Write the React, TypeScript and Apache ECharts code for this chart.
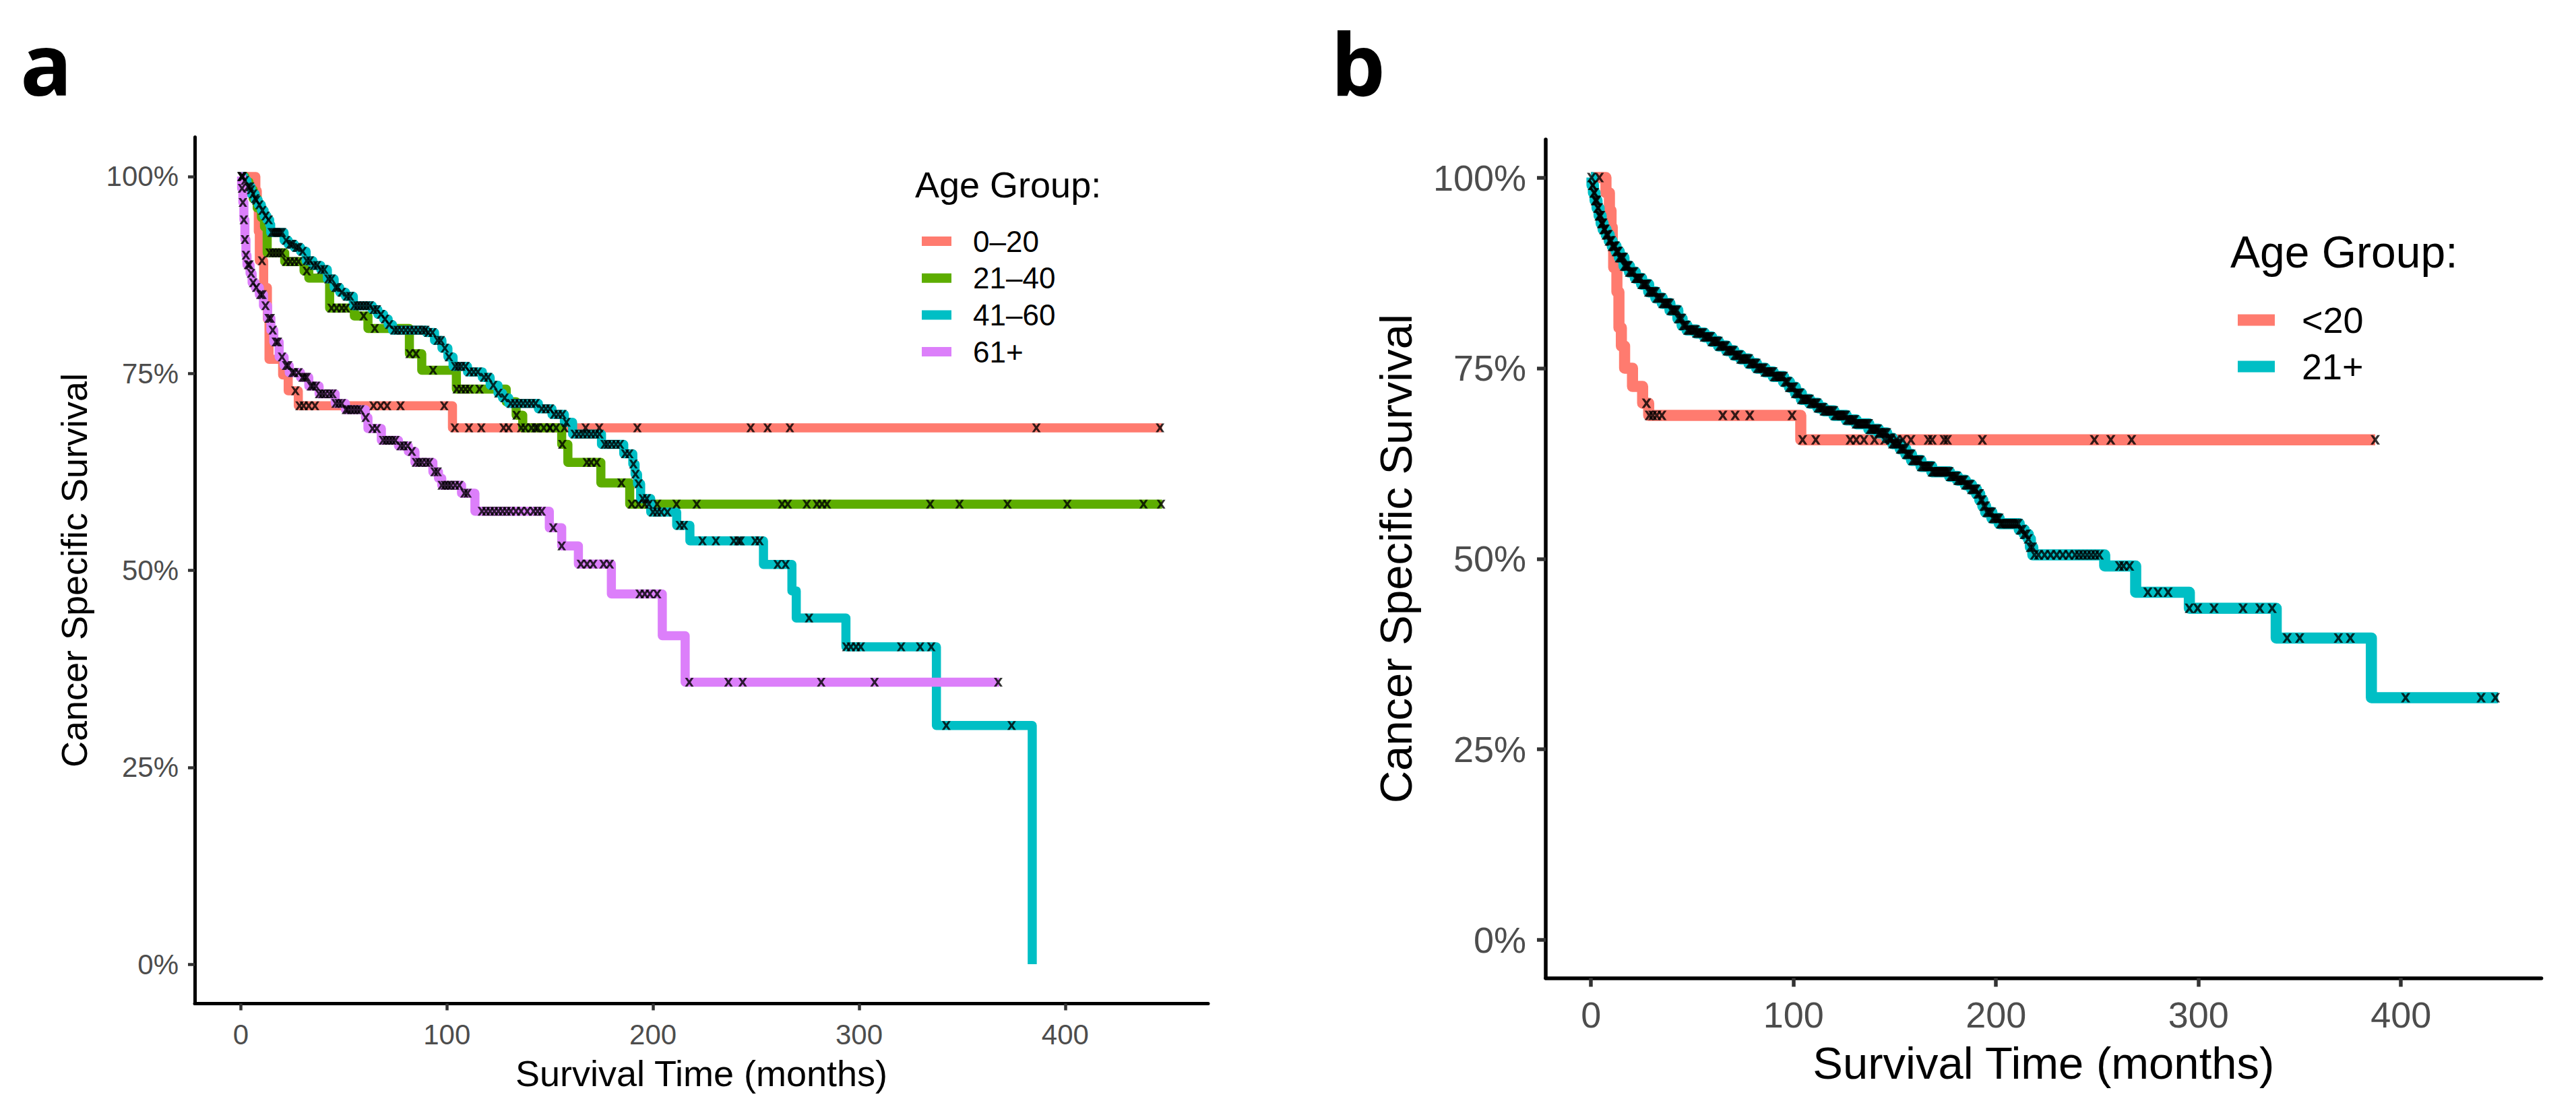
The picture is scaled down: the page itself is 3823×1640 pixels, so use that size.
import React, { useEffect, useRef } from "react";
import * as echarts from "echarts";

// ---------- axes ----------
const X_TICKS = [0, 100, 200, 300, 400];
const Y_TICKS = [0, 0.25, 0.5, 0.75, 1];
const X_MIN = -22.35; // 5% expansion of 0..447
const X_MAX = 469.35;
const Y_MIN = -0.05;
const Y_MAX = 1.05;

const X_TITLE = "Survival Time (months)";
const Y_TITLE = "Cancer Specific Survival";
const LEGEND_TITLE = "Age Group:";

// ---------- panel a ----------
const GROUPS_A = ["0–20", "21–40", "41–60", "61+"];
const COLORS_A = ["#FF7B6F", "#5DAD00", "#00BFC5", "#DC7FFA"];

const A_STEPS_0_20: number[][] = [
  [0, 1], [7.3, 0.982], [8, 0.96], [8.5, 0.93], [9.0, 0.893], [11.1, 0.859], [12.9, 0.819],
  [13.7, 0.768], [20.3, 0.748], [23, 0.728], [27.9, 0.709], [102.7, 0.681], [447, 0.681],
];
const A_CENS_0_20 = [
  10.3, 26.5, 28.5, 30.5, 33, 36, 64.4, 67.9, 71, 77.5, 98.7, 103.8, 110.7, 116.7, 127.5, 130,
  136, 143, 150, 157, 167.3, 173.9, 192.4, 247.4, 255.6, 266.4, 386, 446,
];

const A_STEPS_21_40: number[][] = [
  [0, 1], [2, 0.993], [4, 0.983], [6, 0.972], [8, 0.96], [10, 0.948], [11.5, 0.936], [12.8, 0.903],
  [21.3, 0.892], [30.7, 0.88], [33, 0.871], [43.1, 0.833], [55.1, 0.823], [61.7, 0.807],
  [81.8, 0.775], [87.8, 0.754], [104.6, 0.73], [128.8, 0.714], [133.6, 0.697], [136.8, 0.681],
  [155.7, 0.66], [158.7, 0.637], [174.7, 0.611], [188.7, 0.584], [447, 0.584],
];
const A_CENS_21_40 = [
  0.6, 4.9, 7, 14, 15.5, 17, 18.5, 20, 22, 24, 26, 28, 32, 44, 46.5, 49, 51, 59.6, 65, 81.9, 85,
  93.3, 104.8, 107, 109, 111, 115.8, 133.8, 138, 141, 144, 147, 150, 153, 156, 167.9, 170, 172.7,
  184.7, 189.7, 193, 196, 198, 202, 211.4, 221.2, 262.6, 265.4, 274.6, 279.5, 282, 284.4, 334.5,
  348.7, 372, 401, 438, 446.5,
];

const A_STEPS_41_60: number[][] = [
  [0, 1], [1.5, 0.995], [3, 0.987], [5, 0.978], [7, 0.97], [8.5, 0.964], [10, 0.957], [11.3, 0.95],
  [12.7, 0.945], [14, 0.939], [14.5, 0.929], [21, 0.919], [23, 0.914], [26, 0.91], [29, 0.905],
  [31.7, 0.893], [35, 0.887], [38.8, 0.882], [42, 0.87], [45.3, 0.859], [48, 0.853], [50.8, 0.848],
  [54.6, 0.836], [63.8, 0.831], [66.5, 0.825], [69.3, 0.819], [71.5, 0.812], [73.6, 0.805],
  [90, 0.802], [94, 0.792], [97.6, 0.782], [100.5, 0.771], [103, 0.759], [110, 0.752],
  [117.2, 0.745], [121, 0.735], [124.8, 0.725], [127, 0.719], [130, 0.712], [144.4, 0.705],
  [151, 0.698], [157, 0.688], [161, 0.673], [175, 0.66], [185.8, 0.648], [190.2, 0.635],
  [191.3, 0.622], [192.5, 0.61], [194, 0.591], [198.9, 0.574], [211.5, 0.557], [217.9, 0.5375],
  [253.6, 0.5075], [267.4, 0.474], [269.5, 0.4394], [293.6, 0.403], [337.5, 0.303], [384, 0],
];
const A_CENS_41_60 = [
  0.5, 1, 2, 3.5, 4.5, 6, 7.5, 9, 10.5, 12, 13.5, 15, 16, 17, 18, 19, 20, 22, 24, 25, 27, 28, 30,
  32, 33.5, 35.5, 37, 39, 40.5, 42.5, 44, 46, 47, 49, 51.5, 53, 55, 56.5, 58, 59.5, 61, 62.5, 64.5,
  66, 68, 70, 72, 74.5, 76, 78, 80, 82, 84, 86, 88, 89.5, 91, 93, 95.5, 97, 99, 101, 104, 105.5,
  107, 109, 111, 113, 115, 118, 120, 122.5, 125, 128, 131, 133, 135, 137, 139, 141, 143, 146, 148,
  150, 152, 154, 156, 158, 162, 164, 166, 168, 170, 172, 174, 176.5, 178, 180, 182, 184, 186.5,
  188.5, 190.5, 191.5, 193, 195, 197, 200, 202, 204, 207, 213, 215, 224, 230.5, 239.2, 241.4,
  242.5, 249.6, 251.7, 260.5, 264.3, 275.7, 293.8, 296, 298.5, 300.8, 320.4, 329.6, 335, 342.3, 374,
];

const A_STEPS_61: number[][] = [
  [0, 1], [0.4, 0.985], [1, 0.967], [1.5, 0.945], [2, 0.92], [2.5, 0.9], [3, 0.888], [4.5, 0.877],
  [5.5, 0.865], [7, 0.859], [9, 0.85], [11, 0.836], [13, 0.82], [14.6, 0.805], [16, 0.79],
  [18.6, 0.771], [21, 0.76], [23.5, 0.751], [29, 0.745], [33, 0.734], [38, 0.724], [45.8, 0.712],
  [50.8, 0.704], [60.5, 0.694], [61.7, 0.68], [68.2, 0.665], [76.5, 0.658], [81.3, 0.651],
  [84.5, 0.637], [93.2, 0.625], [95.9, 0.617], [97.5, 0.608], [107.1, 0.598], [113.6, 0.575],
  [149.7, 0.554], [155.7, 0.531], [163.8, 0.508], [179.8, 0.47], [204.5, 0.417], [215.6, 0.358],
  [368, 0.358],
];
const A_CENS_61 = [
  0.3, 0.6, 1, 1.5, 2, 2.5, 3.5, 4.2, 5, 6, 7.5, 9.5, 10.5, 12, 13.5, 14.5, 15.5, 17, 18, 20, 22,
  23, 25, 26, 28, 30, 31, 32, 34, 35, 36.5, 38, 39.5, 41, 43, 44.5, 46, 47.5, 49, 51, 52, 53.5, 55,
  56.5, 58, 60.6, 63.9, 66, 69, 70.5, 72, 73.5, 75, 77.5, 79, 81, 83, 85, 86.5, 88, 90, 91.5, 94,
  95.5, 97.5, 99, 100.5, 102, 104, 106, 108.5, 110, 117, 119, 121, 123, 125, 127, 129, 131, 133.5,
  136, 139, 142, 144, 146, 151.6, 155.7, 165, 168, 171, 176, 179, 193.5, 196, 198.5, 202, 217.6,
  236.6, 243.5, 281.6, 307.5, 367.5,
];

// ---------- panel b ----------
const GROUPS_B = ["<20", "21+"];
const COLORS_B = ["#FF7B6F", "#00BFC5"];

const B_STEPS_LT20: number[][] = [
  [0, 1], [7.4, 0.98], [9.1, 0.957], [9.9, 0.935], [10.5, 0.912], [11.2, 0.882], [12.8, 0.85],
  [13.8, 0.803], [15, 0.779], [16.6, 0.75], [20.5, 0.726], [25.5, 0.704], [28.5, 0.688],
  [103.6, 0.656], [387.3, 0.656],
];
const B_CENS_LT20 = [
  4.1, 27.4, 28.8, 30.5, 32.5, 35, 65.1, 71.2, 78.4, 99.3, 104.5, 111, 128, 131, 134.8, 140, 145,
  148, 151, 154, 158, 166.6, 168.5, 174.4, 176, 193.3, 248.6, 256.7, 267, 387.3,
];

const B_STEPS_21P: number[][] = [
  [0, 1], [0.5, 0.99], [1.2, 0.98], [2, 0.97], [3, 0.96], [4, 0.95], [5, 0.94], [6, 0.932],
  [7.5, 0.925], [9, 0.917], [10.5, 0.91], [12.4, 0.903], [14, 0.895], [16.3, 0.884], [19, 0.876],
  [21.9, 0.868], [25, 0.86], [28.5, 0.85], [32, 0.842], [35.2, 0.835], [39, 0.826], [42.9, 0.815],
  [45, 0.806], [47.4, 0.8], [52, 0.796], [56, 0.791], [59.6, 0.785], [63, 0.779], [67, 0.773],
  [70.6, 0.767], [74, 0.762], [78, 0.756], [81.8, 0.75], [86, 0.745], [90, 0.739], [95.1, 0.732],
  [98, 0.725], [101, 0.717], [103.9, 0.709], [108, 0.704], [112, 0.698], [115, 0.694], [120, 0.688],
  [126.1, 0.682], [131, 0.677], [137.2, 0.67], [142, 0.665], [146.1, 0.658], [149, 0.651],
  [152.7, 0.644], [155.5, 0.637], [158.3, 0.629], [163, 0.621], [168.3, 0.614], [177.1, 0.608],
  [181, 0.603], [184.9, 0.597], [188, 0.591], [190.4, 0.585], [192, 0.577], [193.5, 0.569],
  [194.9, 0.561], [198, 0.553], [201.6, 0.546], [211.5, 0.538], [214, 0.532], [216, 0.526],
  [217, 0.515], [218.2, 0.505], [253.7, 0.4905], [269, 0.456], [295.5, 0.435], [338.4, 0.396],
  [385.4, 0.3177], [448, 0.3177],
];
const B_CENS_21P = [
  0.3, 1, 1.8, 2.5, 3.3, 4, 4.8, 5.5, 6.3, 7, 8, 9, 10, 11, 12, 13, 14, 15, 16, 17, 18, 19, 20.5,
  22, 23, 24.5, 26, 27, 28.5, 30, 31, 32.5, 34, 35.5, 37, 38, 39.5, 41, 42.5, 44, 45.5, 47, 48.5,
  50, 51.5, 53, 54.5, 56, 57.5, 59, 60.5, 62, 63.5, 65, 66.5, 68, 69.5, 71, 72.5, 74, 75.5, 77,
  78.5, 80, 81.5, 83, 84.5, 86, 87.5, 89, 90.5, 92, 93.5, 95, 96.5, 98, 99.5, 101, 102.5, 104,
  105.5, 107, 108.5, 110, 111.5, 113, 114.5, 116, 117.5, 119, 120.5, 122, 123.5, 125, 126.5, 128,
  129.5, 131, 132.5, 134, 135.5, 137, 138.5, 140, 141.5, 143, 144.5, 146, 147.5, 149, 150.5, 152,
  153.5, 155, 156.5, 158, 159.5, 161, 162.5, 164, 165.5, 167, 168.5, 170, 171.5, 173, 174.5, 176,
  177.5, 179, 180.5, 182, 183.5, 185, 186.5, 188, 189.5, 191, 192.5, 194, 195.5, 197, 198.5, 200,
  201.5, 203, 205, 207, 209, 211, 213, 215, 217, 219, 221, 224, 227, 230, 233, 236, 239, 241, 243,
  245, 247, 249, 251, 261, 263, 266, 275, 280, 285, 295.5, 299.6, 307.7, 322, 330.3, 336.4, 343.8,
  350, 369.1, 375, 402.3, 439.6, 446.6,
];
const B_CENS_21P_EXTRA = [
  0.7, 1.4, 2.1, 2.9, 3.7, 4.4, 5.2, 5.9, 6.7, 7.5, 8.5, 9.5, 10.5, 11.5, 12.5, 13.5, 14.5, 15.5,
  16.5, 17.5, 18.5, 19.8, 21.2, 22.5, 23.8, 25.2, 26.5, 27.8, 29.2, 30.5, 31.8, 33.2, 34.8, 36.2,
  37.5, 38.8, 40.2, 41.8, 43.2, 44.8, 46.2, 47.8, 49.2, 50.8, 52.2, 53.8, 55.2, 56.8, 58.2, 59.8,
  61.2, 62.8, 64.2, 65.8, 67.2, 68.8, 70.2, 71.8, 73.2, 74.8, 76.2, 77.8, 79.2, 80.8, 82.2, 83.8,
  85.2, 86.8, 88.2, 89.8, 91.2, 92.8, 94.2, 95.8, 97.2, 98.8, 100.2, 101.8, 103.2, 104.8, 106.2,
  107.8, 109.2, 110.8, 112.2, 113.8, 115.2, 116.8, 118.2, 119.8, 121.2, 122.8, 124.2, 125.8, 127.2,
  128.8, 130.2, 131.8, 133.2, 134.8, 136.2, 137.8, 139.2, 140.8, 142.2, 143.8, 145.2, 146.8, 148.2,
  149.8, 151.2, 152.8, 154.2, 155.8, 157.2, 158.8, 160.2, 161.8, 163.2, 164.8, 166.2, 167.8, 169.2,
  170.8, 172.2, 173.8, 175.2, 176.8, 178.2, 179.8, 181.2, 182.8, 184.2, 185.8, 187.2, 188.8, 190.2,
  191.8, 193.2, 194.8, 196.2, 197.8, 199.2, 200.8, 202.2, 204, 206, 208, 210, 212, 214, 216, 218,
];

// ---------- helpers ----------
const FONT = "Liberation Sans";
const X_MARK =
  "path://M0,0L3.4,0L6,3.7L8.6,0L12,0L7.9,6L12,12L8.6,12L6,8.3L3.4,12L0,12L4.1,6Z";

function survivalAt(steps: number[][], t: number): number {
  let s = steps[0][1];
  for (const [ti, si] of steps) {
    if (ti <= t) s = si;
    else break;
  }
  return s;
}

function lineSeries(name: string, steps: number[][], color: string, width: number, idx: number) {
  return {
    type: "line",
    name,
    data: steps,
    step: "end",
    symbol: "none",
    showSymbol: false,
    xAxisIndex: idx,
    yAxisIndex: idx,
    silent: true,
    z: 2,
    itemStyle: { color },
    lineStyle: { color, width, cap: "butt", join: "round" },
  };
}

function censorSeries(steps: number[][], cens: number[], size: number, idx: number) {
  return {
    type: "scatter",
    data: cens.map((t) => [t, survivalAt(steps, t)]),
    symbol: X_MARK,
    symbolSize: size,
    xAxisIndex: idx,
    yAxisIndex: idx,
    silent: true,
    z: 5,
    itemStyle: { color: "#000" },
  };
}

function makeAxes(idx: number, p: any) {
  const xAxis = {
    type: "value",
    gridIndex: idx,
    min: X_MIN,
    max: X_MAX,
    name: X_TITLE,
    nameLocation: "middle",
    nameGap: p.xNameGap,
    nameTextStyle: { fontFamily: FONT, fontSize: p.titleSize, color: "#000" },
    axisLine: { show: true, onZero: false, lineStyle: { color: "#000", width: p.axisWidth } },
    axisTick: {
      show: true,
      length: p.tickLen,
      customValues: X_TICKS,
      lineStyle: { color: "#333333", width: p.tickWidth },
    },
    axisLabel: {
      customValues: X_TICKS,
      margin: p.xLabelMargin,
      fontFamily: FONT,
      fontSize: p.tickSize,
      color: "#4D4D4D",
      formatter: (v: number) => String(v),
    },
    splitLine: { show: false },
  };
  const yAxis = {
    type: "value",
    gridIndex: idx,
    min: Y_MIN,
    max: Y_MAX,
    name: Y_TITLE,
    nameLocation: "middle",
    nameGap: p.yNameGap,
    nameTextStyle: { fontFamily: FONT, fontSize: p.titleSize, color: "#000" },
    axisLine: { show: true, onZero: false, lineStyle: { color: "#000", width: p.axisWidth } },
    axisTick: {
      show: true,
      length: p.tickLen,
      customValues: Y_TICKS,
      lineStyle: { color: "#333333", width: p.tickWidth },
    },
    axisLabel: {
      customValues: Y_TICKS,
      margin: p.yLabelMargin,
      fontFamily: FONT,
      fontSize: p.tickSize,
      color: "#4D4D4D",
      formatter: (v: number) => `${Math.round(v * 100)}%`,
    },
    splitLine: { show: false },
  };
  return { xAxis, yAxis };
}

export default function App() {
  const ref = useRef<HTMLDivElement>(null);

  useEffect(() => {
    if (!ref.current) return;
    const chart = echarts.init(ref.current, null, { renderer: "svg" });

    const axA = makeAxes(0, {
      xNameGap: 76, yNameGap: 152, titleSize: 54, axisWidth: 5, tickLen: 10, tickWidth: 4.5,
      xLabelMargin: 25, yLabelMargin: 24, tickSize: 42,
    });
    const axB = makeAxes(1, {
      xNameGap: 92, yNameGap: 189, titleSize: 67, axisWidth: 5.5, tickLen: 13, tickWidth: 5.5,
      xLabelMargin: 27, yLabelMargin: 29, tickSize: 54,
    });

    const stepsA = [A_STEPS_0_20, A_STEPS_21_40, A_STEPS_41_60, A_STEPS_61];
    const censA = [A_CENS_0_20, A_CENS_21_40, A_CENS_41_60, A_CENS_61];
    const stepsB = [B_STEPS_LT20, B_STEPS_21P];
    const censB = [B_CENS_LT20, B_CENS_21P.concat(B_CENS_21P_EXTRA)];

    const series: any[] = [];
    GROUPS_A.forEach((g, i) => series.push(lineSeries(g, stepsA[i], COLORS_A[i], 13.5, 0)));
    GROUPS_B.forEach((g, i) => series.push(lineSeries(g, stepsB[i], COLORS_B[i], 16.5, 1)));
    GROUPS_A.forEach((_, i) => series.push(censorSeries(stepsA[i], censA[i], 13, 0)));
    GROUPS_B.forEach((_, i) => series.push(censorSeries(stepsB[i], censB[i], 14, 1)));

    const textEl = (x: number, y: number, text: string, size: number, weight: string, family: string) => ({
      type: "text",
      x,
      y,
      silent: true,
      style: {
        text,
        fill: "#000",
        fontSize: size,
        fontWeight: weight,
        fontFamily: family,
        align: "left",
        verticalAlign: "middle",
        textAlign: "left",
        textVerticalAlign: "middle",
      },
    });

    chart.setOption({
      animation: false,
      backgroundColor: "#ffffff",
      grid: [
        { left: 289, top: 203.5, width: 1504, height: 1286, containLabel: false },
        { left: 2294, top: 207, width: 1477.6, height: 1244.5, containLabel: false },
      ],
      xAxis: [axA.xAxis, axB.xAxis],
      yAxis: [axA.yAxis, axB.yAxis],
      legend: [
        {
          orient: "vertical",
          left: 1363,
          top: 331,
          itemWidth: 44,
          itemHeight: 14,
          itemGap: 10.7,
          icon: "rect",
          selectedMode: false,
          data: GROUPS_A,
          itemStyle: { borderWidth: 0 },
          textStyle: { fontFamily: FONT, fontSize: 44, color: "#000", lineHeight: 44, padding: [0, 0, 0, 27] },
        },
        {
          orient: "vertical",
          left: 3316,
          top: 443,
          itemWidth: 55,
          itemHeight: 17,
          itemGap: 15,
          icon: "rect",
          selectedMode: false,
          data: GROUPS_B,
          itemStyle: { borderWidth: 0 },
          textStyle: { fontFamily: FONT, fontSize: 54, color: "#000", lineHeight: 54, padding: [0, 0, 0, 35] },
        },
      ],
      graphic: [
        textEl(30, 92, "a", 128, "bold", "Open Sans"),
        textEl(1975, 92, "b", 128, "bold", "Open Sans"),
        textEl(1358, 274, LEGEND_TITLE, 54, "normal", FONT),
        textEl(3310, 374, LEGEND_TITLE, 66, "normal", FONT),
      ],
      series,
    });

    return () => chart.dispose();
  }, []);

  return (
    <div
      ref={ref}
      style={{ position: "absolute", left: 0, top: 0, width: 3823, height: 1640, background: "#fff" }}
    />
  );
}
